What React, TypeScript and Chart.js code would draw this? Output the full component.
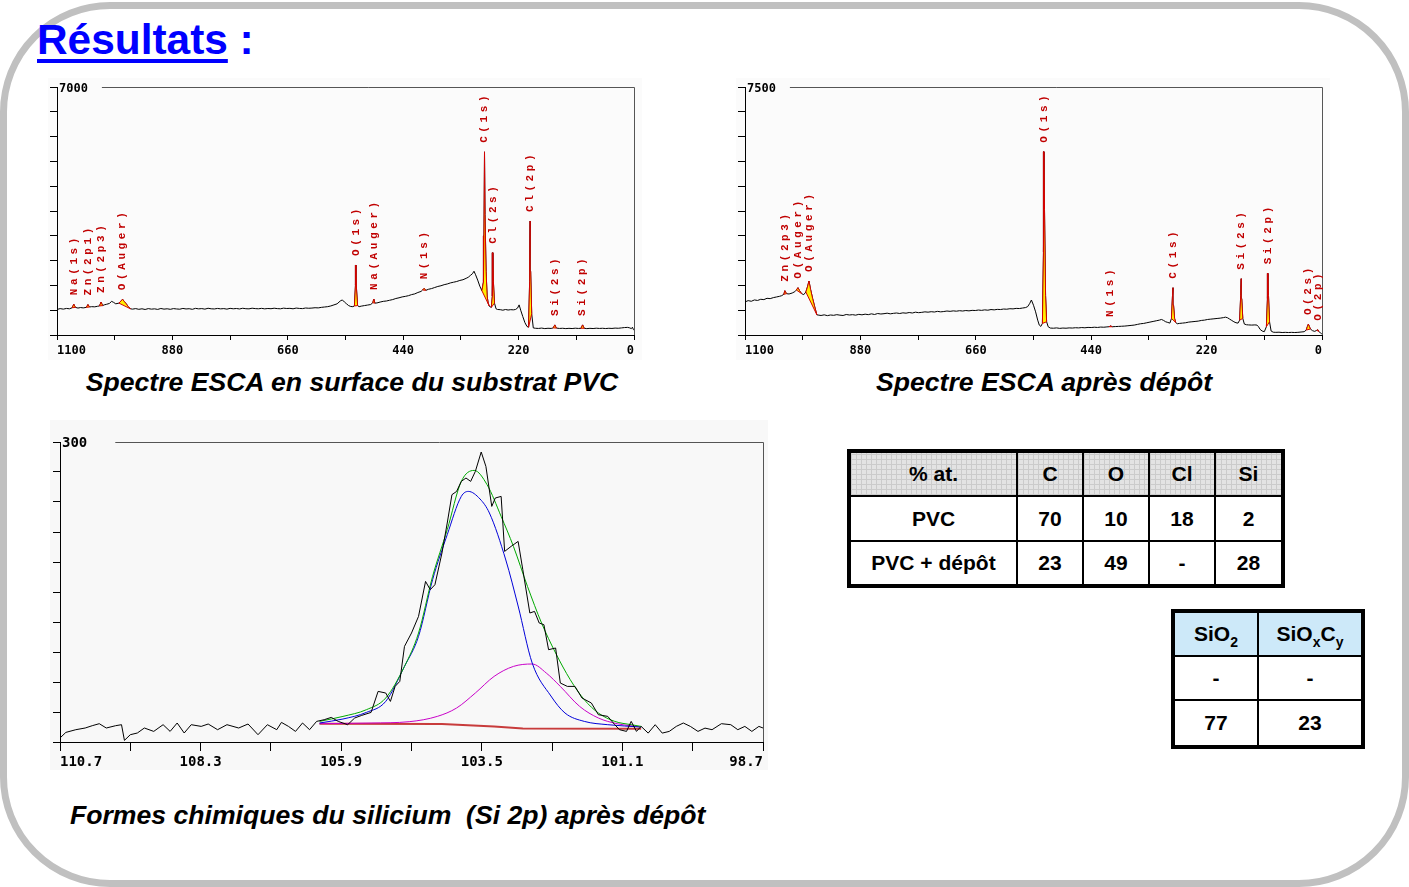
import React, { useEffect, useRef } from 'react';
import { Chart, registerables } from 'chart.js';

Chart.register(...registerables);

// ---------- Spectre ESCA surface PVC : [énergie de liaison (eV), coups] ----------
const pvcSpectrum: [number, number][] = [
  [1100, 720], [1094, 745], [1088, 730], [1082, 750], [1076, 740], [1071, 770], [1068, 870], [1065, 780],
  [1060, 760], [1055, 775], [1050, 765], [1044, 780], [1041, 860], [1038, 790], [1034, 800], [1028, 795],
  [1023, 810], [1019, 820], [1016, 930], [1013, 830], [1010, 850], [1006, 865], [1000, 890], [996, 950], [992, 920],
  [988, 880], [982, 900], [978, 960], [975, 1010], [972, 950], [968, 880], [964, 800], [960, 740],
  [956, 730], [950, 745], [944, 725], [938, 740], [932, 720], [926, 745], [920, 730], [914, 738],
  [908, 722], [902, 748], [896, 730], [890, 740], [884, 725], [878, 745], [872, 735], [866, 728],
  [860, 750], [854, 735], [848, 742], [842, 725], [836, 752], [830, 738], [824, 745], [818, 730],
  [812, 755], [806, 740], [800, 735], [794, 750], [788, 738], [782, 745], [776, 730], [770, 752],
  [764, 740], [758, 748], [752, 735], [746, 755], [740, 742], [734, 738], [728, 756], [722, 745],
  [716, 740], [710, 752], [704, 738], [698, 748], [692, 742], [686, 756], [680, 745], [674, 740],
  [668, 758], [662, 748], [656, 752], [650, 740], [644, 760], [638, 750], [632, 745], [626, 762],
  [620, 755], [614, 760], [608, 770], [602, 765], [596, 780], [590, 790], [584, 800], [578, 820],
  [572, 850], [566, 880], [560, 960], [556, 990], [552, 930], [548, 880], [544, 830], [540, 805],
  [536, 800], [533, 820], [531, 1400], [530, 1976], [529, 1300], [527, 830], [524, 800], [520, 815],
  [514, 830], [508, 845], [502, 860], [498, 910], [496, 1016], [494, 900], [490, 905], [484, 930],
  [478, 950], [472, 960], [466, 980], [460, 1000], [454, 1030], [448, 1050], [442, 1075], [436, 1090],
  [430, 1110], [424, 1140], [418, 1160], [412, 1200], [406, 1230], [403, 1270], [400, 1317], [397, 1260],
  [392, 1290], [386, 1310], [380, 1340], [374, 1370], [368, 1390], [362, 1420], [356, 1440], [350, 1470],
  [344, 1490], [338, 1510], [332, 1540], [326, 1560], [320, 1600], [316, 1630], [312, 1680], [308, 1730],
  [305, 1800], [302, 1700], [298, 1550], [294, 1380], [290, 1250], [287, 1500], [286, 2800], [285, 5170],
  [284, 3400], [282, 1800], [280, 1100], [278, 900], [276, 820], [274, 790], [272, 780], [270, 1100],
  [269, 2323], [268, 1500], [266, 900], [263, 740], [260, 720], [255, 715], [250, 700], [245, 720],
  [240, 705], [235, 715], [230, 710], [226, 720], [222, 760], [219, 850], [216, 700], [212, 520],
  [208, 350], [204, 240], [201, 220], [199, 1500], [198, 3218], [197, 1800], [195, 600], [192, 200],
  [188, 190], [182, 185], [176, 195], [170, 180], [164, 190], [158, 185], [154, 200], [151, 285],
  [148, 195], [142, 185], [136, 190], [130, 180], [124, 188], [118, 182], [112, 192], [106, 185],
  [101, 190], [98, 285], [95, 190], [90, 180], [84, 188], [78, 182], [72, 192], [66, 185],
  [60, 190], [54, 182], [48, 190], [42, 185], [36, 195], [30, 190], [24, 200], [18, 210],
  [12, 215], [8, 200], [5, 180], [3, 220], [1, 150], [0, 140],
];
const pvcPeakNames = ['Na(1s)', 'Zn(2p1)', 'Zn(2p3)', 'O(Auger)', 'O(1s)', 'Na(Auger)', 'N(1s)', 'C(1s)', 'Cl(2s)', 'Cl(2p)', 'Si(2s)', 'Si(2p)'];
const pvcPeakFrom = [1071, 1044, 1019, 982, 533, 498, 403, 290, 272, 201, 154, 101];
const pvcPeakTo = [1065, 1038, 1013, 960, 527, 494, 397, 276, 266, 195, 148, 95];

// ---------- Spectre ESCA après dépôt ----------
const depotSpectrum: [number, number][] = [
  [1100, 1000], [1094, 1040], [1088, 1020], [1082, 1060], [1076, 1045], [1070, 1080], [1064, 1070], [1058, 1110],
  [1052, 1100], [1046, 1130], [1040, 1150], [1034, 1170], [1030, 1190], [1026, 1230], [1024, 1340], [1021, 1250],
  [1016, 1240], [1010, 1270], [1005, 1310], [1002, 1360], [999, 1431], [996, 1340], [992, 1250], [988, 1220],
  [984, 1300], [981, 1450], [978, 1633], [975, 1380], [971, 1100], [967, 850], [963, 610], [959, 600],
  [955, 590], [949, 610], [943, 585], [937, 605], [931, 595], [925, 615], [919, 600], [913, 590],
  [907, 620], [901, 605], [895, 615], [889, 600], [883, 625], [877, 610], [871, 630], [865, 615],
  [859, 640], [853, 620], [847, 650], [841, 635], [835, 645], [829, 660], [823, 640], [817, 655],
  [811, 665], [805, 650], [799, 670], [793, 660], [787, 680], [781, 665], [775, 690], [769, 675],
  [763, 685], [757, 700], [751, 690], [745, 705], [739, 695], [733, 715], [727, 700], [721, 710],
  [715, 725], [709, 715], [703, 730], [697, 720], [691, 735], [685, 725], [679, 740], [673, 730],
  [667, 745], [661, 740], [655, 755], [649, 745], [643, 760], [637, 750], [631, 770], [625, 760],
  [619, 775], [613, 770], [607, 785], [601, 780], [595, 795], [589, 790], [583, 805], [577, 800],
  [571, 815], [565, 830], [561, 860], [557, 960], [554, 1058], [550, 900], [546, 700], [542, 450],
  [539, 300], [536, 260], [533, 350], [531, 2500], [530, 5544], [529, 3800], [527, 1200], [525, 400],
  [522, 250], [518, 210], [512, 205], [506, 215], [500, 200], [494, 210], [488, 205], [482, 215],
  [476, 210], [470, 220], [464, 215], [458, 225], [452, 218], [446, 230], [440, 225], [434, 235],
  [428, 228], [422, 240], [416, 235], [410, 245], [406, 250], [403, 275], [400, 250], [394, 255],
  [388, 260], [382, 265], [376, 270], [370, 280], [364, 290], [358, 300], [352, 320], [346, 340],
  [340, 350], [334, 370], [328, 390], [322, 410], [316, 430], [310, 450], [306, 470], [302, 440],
  [298, 400], [294, 380], [290, 360], [287, 500], [285, 1200], [284, 1431], [283, 900], [281, 500],
  [279, 380], [276, 340], [272, 350], [266, 360], [260, 370], [254, 390], [248, 400], [242, 410],
  [236, 420], [230, 440], [224, 450], [218, 470], [212, 480], [206, 490], [200, 500], [194, 510],
  [188, 525], [184, 540], [180, 520], [176, 480], [172, 440], [168, 400], [164, 370], [160, 360],
  [157, 450], [155, 1200], [154, 1704], [153, 1100], [151, 500], [148, 330], [144, 310], [140, 305],
  [134, 300], [128, 305], [124, 300], [121, 250], [118, 170], [114, 120], [110, 100], [106, 250],
  [104, 1100], [103, 1865], [102, 1200], [100, 400], [97, 120], [93, 85], [88, 80], [82, 85],
  [76, 75], [70, 80], [64, 75], [58, 80], [52, 75], [46, 80], [40, 90], [34, 100],
  [30, 150], [28, 250], [26, 330], [24, 250], [22, 180], [18, 130], [14, 110], [10, 140],
  [8, 160], [6, 110], [3, 60], [1, 40], [0, 30],
];
const depotPeakNames = ['Zn(2p3)', 'O(Auger)', 'O(Auger)', 'O(1s)', 'N(1s)', 'C(1s)', 'Si(2s)', 'Si(2p)', 'O(2s)', 'O(2p)'];
const depotPeakFrom = [1026, 1002, 984, 533, 406, 287, 157, 106, 30, 10];
const depotPeakTo = [1021, 992, 963, 525, 400, 279, 151, 100, 22, 6];

const surveyTicks = [0, 110, 220, 330, 440, 550, 660, 770, 880, 990, 1100];
const surveyTickLabels = ['1100', '880', '660', '440', '220', '0'];
const pvcYTicks = [0, 700, 1400, 2100, 2800, 3500, 4200, 4900, 5600, 6300, 7000];
const depotYTicks = [0, 750, 1500, 2250, 3000, 3750, 4500, 5250, 6000, 6750, 7500];

// ---------- Si 2p après dépôt ----------
const si2pRaw: [number, number][] = [
  [110.7, 4], [110.6, 9.6], [110.43, 12.3], [110.27, 14], [110.15, 16.3], [110.03, 18.3], [109.91, 14], [109.75, 16.3],
  [109.65, 17.3], [109.6, 1.6], [109.5, 7.3], [109.38, 9], [109.26, 14], [109.1, 10.6], [108.94, 17.3], [108.82, 10.6],
  [108.7, 19], [108.58, 9], [108.46, 17.3], [108.29, 15.6], [108.17, 18], [108.01, 12.3], [107.85, 17.3], [107.65, 14],
  [107.49, 18], [107.32, 7.3], [107.16, 17.3], [107.0, 12.3], [106.92, 19.6], [106.8, 15.6], [106.68, 10.6], [106.56, 19],
  [106.44, 12.3], [106.32, 20.6], [106.19, 22.3], [106.07, 24.6], [105.95, 20.6], [105.79, 17.3], [105.67, 24], [105.55, 26.6],
  [105.39, 29.6], [105.27, 50.6], [105.14, 49], [105.06, 40.6], [104.98, 55.6], [104.9, 60.6], [104.82, 95.6], [104.7, 109],
  [104.58, 125.6], [104.46, 160.6], [104.38, 152.3], [104.3, 157.3], [104.18, 189], [104.09, 219], [104.01, 247.3], [103.93, 250.6],
  [103.85, 260.6], [103.77, 264], [103.69, 260.6], [103.61, 270.6], [103.51, 290], [103.43, 275.6], [103.33, 235.6], [103.27, 244],
  [103.17, 245.6], [103.11, 190.6], [103.0, 195.6], [102.88, 200.6], [102.8, 172.3], [102.68, 129], [102.6, 130.6], [102.52, 119],
  [102.44, 117.3], [102.36, 92.3], [102.24, 94], [102.16, 59], [102.04, 55.6], [101.91, 55.6], [101.79, 44], [101.63, 39],
  [101.51, 27.3], [101.35, 25.6], [101.23, 17.3], [101.15, 12.3], [101.03, 10.6], [100.95, 20.6], [100.86, 10.6], [100.78, 15.6],
  [100.66, 8.9], [100.54, 17.3], [100.42, 8.9], [100.3, 10.6], [100.18, 15.6], [100.06, 19], [99.94, 15.6], [99.81, 10.6],
  [99.69, 13.9], [99.57, 12.3], [99.41, 18.3], [99.25, 17.3], [99.13, 12.3], [99.01, 15.6], [98.89, 10.6], [98.77, 15.6],
  [98.7, 14],
];
const si2pEnvelope: [number, number][] = [
  [106.27, 20.6], [105.87, 25.6], [105.47, 32.3], [105.14, 44], [104.82, 75.6], [104.58, 109], [104.34, 165.6], [104.09, 212.3],
  [103.85, 260.6], [103.63, 271.6], [103.41, 257.3], [103.17, 225.6], [102.96, 195.6], [102.72, 155.6], [102.48, 119], [102.24, 89],
  [101.99, 62.3], [101.75, 42.3], [101.51, 29], [101.23, 20.6], [100.95, 17.3], [100.78, 15.6],
];
const si2pSiO2: [number, number][] = [
  [106.27, 19], [105.87, 23], [105.47, 29.6], [105.14, 40.6], [104.82, 75.6], [104.58, 105.6], [104.34, 162.3], [104.09, 207.3],
  [103.85, 245.6], [103.73, 250.6], [103.53, 243], [103.37, 229], [103.09, 182], [102.88, 136], [102.64, 79], [102.32, 46],
  [102.08, 29], [101.75, 20.6], [101.35, 17.3], [100.78, 15],
];
const si2pSiOxCy: [number, number][] = [
  [106.27, 18.3], [105.39, 19], [104.74, 20.3], [104.26, 25.6], [103.93, 34], [103.61, 49], [103.29, 65.6], [102.96, 75.6],
  [102.64, 78], [102.4, 69], [102.16, 55.6], [101.83, 35.6], [101.51, 24], [101.19, 18.3], [100.78, 15],
];
const si2pBackground: [number, number][] = [
  [106.27, 18.3], [104.18, 18], [103.29, 15.6], [102.8, 13.6], [100.78, 13.3],
];
const si2pTicks = [98.7, 99.9, 101.1, 102.3, 103.5, 104.7, 105.9, 107.1, 108.3, 109.5, 110.7];
const si2pTickLabels = ['110.7', '108.3', '105.9', '103.5', '101.1', '98.7'];
const si2pYTicks = [0, 30, 60, 90, 120, 150, 180, 210, 240, 270, 300];

// ---------- Tableaux ----------
const compHeader = ['% at.', 'C', 'O', 'Cl', 'Si'];
const compPVC = ['PVC', '70', '10', '18', '2'];
const compDepot = ['PVC + dépôt', '23', '49', '-', '28'];
const siHeader = ['SiO_2', 'SiO_xC_y'];
const siRowPVC = ['-', '-'];
const siRowDepot = ['77', '23'];

// ---------------------------------------------------------------------------
const PEAK_RED = '#d40000';
const PEAK_YELLOW = '#ffee00';
const MONO = '"DejaVu Sans Mono", "Liberation Mono", monospace';

type Pt = { x: number; y: number };
const toPoints = (pairs: [number, number][]): Pt[] =>
  pairs.map(([x, y]) => ({ x, y })).sort((a, b) => a.x - b.x);

function makeFramePlugin(o: {
  topLabel: string; topFont: string; gap: number;
  peaks?: { x: number; y: number; text: string }[]; peakFont?: string; peakGap?: number; pitch?: number;
}) {
  return {
    id: 'frame',
    afterDatasetsDraw(chart: any) {
      const { ctx, chartArea: a, scales } = chart;
      const xs = scales.x, ys = scales.y;
      ctx.save();
      ctx.font = o.topFont;
      const yTop = Math.round(ys.getPixelForValue(ys.max)) + 0.5;
      const w = ctx.measureText(o.topLabel).width;
      ctx.strokeStyle = '#555';
      ctx.lineWidth = 1;
      ctx.beginPath();
      ctx.moveTo(a.left + 2 + w + o.gap, yTop);
      ctx.lineTo(Math.round(a.right) + 0.5, yTop);
      ctx.lineTo(Math.round(a.right) + 0.5, a.bottom);
      ctx.stroke();
      ctx.fillStyle = '#000';
      ctx.textAlign = 'left';
      ctx.textBaseline = 'middle';
      ctx.fillText(o.topLabel, a.left + 2, yTop + 1);
      if (o.peaks) {
        ctx.font = o.peakFont;
        ctx.fillStyle = '#c00000';
        for (const p of o.peaks) {
          const px = xs.getPixelForValue(p.x);
          const py = ys.getPixelForValue(p.y) - (o.peakGap || 8);
          ctx.save();
          ctx.translate(px, py);
          ctx.rotate(-Math.PI / 2);
          ctx.textAlign = 'left';
          ctx.textBaseline = 'middle';
          Array.from(p.text).forEach((ch, i) => ctx.fillText(ch, i * (o.pitch || 10), 0));
          ctx.restore();
        }
      }
      ctx.restore();
    },
  };
}

function axisScales(p: {
  xMin: number; xMax: number; xTicks: number[]; xLabels: string[]; fmt: (v: number) => string;
  yMax: number; yTicks: number[]; xHeight: number; xTickLen: number; xPad: number; fontSize: number;
}) {
  return {
    x: {
      type: 'linear', min: p.xMin, max: p.xMax, reverse: true,
      afterBuildTicks: (s: any) => { s.ticks = p.xTicks.map((v) => ({ value: v })); },
      afterFit: (s: any) => { s.height = p.xHeight; },
      grid: { drawOnChartArea: false, drawTicks: true, tickLength: p.xTickLen, color: '#000', lineWidth: 1 },
      border: { display: true, color: '#000', width: 1 },
      ticks: {
        align: 'inner', padding: p.xPad, maxRotation: 0, minRotation: 0, autoSkip: false, color: '#000',
        font: { family: MONO, size: p.fontSize, weight: 'bold' },
        callback: (v: any) => { const s = p.fmt(Number(v)); return p.xLabels.includes(s) ? s : ''; },
      },
    },
    y: {
      type: 'linear', min: 0, max: p.yMax,
      afterBuildTicks: (s: any) => { s.ticks = p.yTicks.map((v) => ({ value: v })); },
      afterFit: (s: any) => { s.width = 8; },
      grid: { drawOnChartArea: false, drawTicks: true, tickLength: 7, color: '#000', lineWidth: 1 },
      border: { display: true, color: '#000', width: 1 },
      ticks: { display: false },
    },
  };
}

function surveyConfig(spec: [number, number][], names: string[], from: number[], to: number[], yMax: number, yTicks: number[]) {
  const pts = toPoints(spec);
  const datasets: any[] = [];
  const peaks: { x: number; y: number; text: string }[] = [];
  names.forEach((name, k) => {
    const seg = pts.filter((p) => p.x <= from[k] && p.x >= to[k]);
    const top = seg.reduce((m, p) => (p.y > m.y ? p : m), seg[0]);
    peaks.push({ x: top.x, y: top.y, text: name });
    datasets.push({ data: [seg[0], seg[seg.length - 1]], borderColor: PEAK_RED, borderWidth: 1, pointRadius: 0, fill: false, order: 1 });
    datasets.push({ data: seg, borderColor: PEAK_RED, borderWidth: 1, pointRadius: 0, backgroundColor: PEAK_YELLOW, fill: '-1', order: 1 });
  });
  datasets.push({ data: pts, borderColor: '#000', borderWidth: 1, pointRadius: 0, fill: false, order: 2 });
  return {
    type: 'line',
    data: { datasets },
    options: {
      animation: false, responsive: false, events: [],
      layout: { padding: { left: 1, top: 9, right: 8, bottom: 3 } },
      plugins: { legend: { display: false }, tooltip: { enabled: false } },
      elements: { line: { tension: 0 }, point: { radius: 0 } },
      scales: axisScales({
        xMin: 0, xMax: 1100, xTicks: surveyTicks, xLabels: surveyTickLabels, fmt: (v) => String(Math.round(v)),
        yMax, yTicks, xHeight: 22, xTickLen: 5, xPad: 4, fontSize: 12,
      }),
    },
    plugins: [makeFramePlugin({
      topLabel: String(yMax), topFont: `bold 12px ${MONO}`, gap: 14,
      peaks, peakFont: 'bold 11px "Liberation Mono", monospace', peakGap: 9, pitch: 10.2,
    })],
  };
}

function si2pConfig() {
  const line = (pairs: [number, number][], color: string, width: number, order: number, tension: number) => ({
    data: toPoints(pairs), borderColor: color, borderWidth: width, pointRadius: 0, fill: false, order,
    tension, cubicInterpolationMode: tension ? 'monotone' : 'default',
  });
  return {
    type: 'line',
    data: {
      datasets: [
        line(si2pRaw, '#000', 1, 0, 0),
        line(si2pEnvelope, '#00a800', 1, 1, 0.4),
        line(si2pSiO2, '#0000d8', 1, 1, 0.4),
        line(si2pSiOxCy, '#c800c8', 1, 1, 0.4),
        line(si2pBackground, '#c83c3c', 2, 2, 0),
      ],
    },
    options: {
      animation: false, responsive: false, events: [],
      layout: { padding: { left: 2, top: 22, right: 5, bottom: 2 } },
      plugins: { legend: { display: false }, tooltip: { enabled: false } },
      elements: { point: { radius: 0 } },
      scales: axisScales({
        xMin: 98.7, xMax: 110.7, xTicks: si2pTicks, xLabels: si2pTickLabels, fmt: (v) => v.toFixed(1),
        yMax: 300, yTicks: si2pYTicks, xHeight: 26, xTickLen: 9, xPad: 3, fontSize: 14,
      }),
    },
    plugins: [makeFramePlugin({ topLabel: '300', topFont: `bold 14px ${MONO}`, gap: 28 })],
  };
}

function ChartBox(props: { make: () => any; left: number; top: number; width: number; height: number; bg: string }) {
  const ref = useRef<HTMLCanvasElement>(null);
  useEffect(() => {
    const chart = new Chart(ref.current as HTMLCanvasElement, props.make());
    return () => chart.destroy();
  }, []);
  return (
    <div style={{ position: 'absolute', left: props.left, top: props.top, width: props.width, height: props.height, background: props.bg }}>
      <canvas ref={ref} width={props.width} height={props.height} style={{ display: 'block', width: props.width, height: props.height }} />
    </div>
  );
}

function renderSub(text: string) {
  const parts: React.ReactNode[] = [];
  let i = 0;
  let buf = '';
  while (i < text.length) {
    if (text[i] === '_' && i + 1 < text.length) {
      if (buf) parts.push(buf);
      buf = '';
      parts.push(
        <span key={i} style={{ fontSize: 14, position: 'relative', top: 6, lineHeight: '14px' }}>{text[i + 1]}</span>,
      );
      i += 2;
    } else {
      buf += text[i];
      i += 1;
    }
  }
  if (buf) parts.push(buf);
  return parts;
}

function Table(props: { left: number; top: number; colW: number[]; rowH: number[]; rows: string[][]; headerBg: string; fontSize: number }) {
  const { left, top, colW, rowH, rows, headerBg, fontSize } = props;
  return (
    <div style={{
      position: 'absolute', left, top, display: 'grid', gridTemplateColumns: colW.map((w) => `${w}px`).join(' '),
      gridTemplateRows: rowH.map((h) => `${h}px`).join(' '), gap: 2, background: '#000', border: '4px solid #000',
    }}>
      {rows.map((r, ri) => r.map((c, ci) => (
        <div key={`${ri}-${ci}`} style={{
          background: ri === 0 ? headerBg : '#fff', display: 'flex', alignItems: 'center', justifyContent: 'center',
          fontWeight: 'bold', fontSize, color: '#000', whiteSpace: 'pre',
        }}><span>{renderSub(c)}</span></div>
      )))}
    </div>
  );
}

const gridHeaderBg =
  'repeating-linear-gradient(0deg, #cbcbcb 0px, #cbcbcb 1px, transparent 1px, transparent 5px), ' +
  'repeating-linear-gradient(90deg, #cbcbcb 0px, #cbcbcb 1px, transparent 1px, transparent 5px), #e3e3e3';

export default function App() {
  const caption: React.CSSProperties = {
    position: 'absolute', fontWeight: 'bold', fontStyle: 'italic', fontSize: 26.6, lineHeight: '26px', color: '#000', whiteSpace: 'pre',
  };
  return (
    <div style={{
      position: 'absolute', left: 0, top: 0, width: 1409, height: 887, overflow: 'hidden', background: '#fff',
      fontFamily: '"Liberation Sans", Arial, sans-serif',
    }}>
      <div style={{
        position: 'absolute', left: 0, top: 2, width: 1409, height: 885, boxSizing: 'border-box',
        border: '7px solid #c0c0c0', borderRadius: 110,
      }} />
      <div style={{ position: 'absolute', left: 37, top: 19, fontSize: 42.4, lineHeight: '42px', fontWeight: 'bold', color: '#0000ff', whiteSpace: 'pre' }}>
        <span style={{ textDecoration: 'underline', textDecorationThickness: 4, textUnderlineOffset: 5 }}>Résultats</span>
        <span> :</span>
      </div>

      <ChartBox make={() => surveyConfig(pvcSpectrum, pvcPeakNames, pvcPeakFrom, pvcPeakTo, 7000, pvcYTicks)} left={48} top={78} width={594} height={282} bg="#fbfbfb" />
      <ChartBox make={() => surveyConfig(depotSpectrum, depotPeakNames, depotPeakFrom, depotPeakTo, 7500, depotYTicks)} left={736} top={78} width={594} height={282} bg="#fbfbfb" />
      <ChartBox make={si2pConfig} left={50} top={420} width={718} height={350} bg="#f8f8f8" />

      <div style={{ ...caption, left: 52, top: 369, width: 600, textAlign: 'center' }}>Spectre ESCA en surface du substrat PVC</div>
      <div style={{ ...caption, left: 744, top: 369, width: 600, textAlign: 'center' }}>Spectre ESCA après dépôt</div>
      <div style={{ ...caption, left: 70, top: 802 }}>Formes chimiques du silicium  (Si 2p) après dépôt</div>

      <Table left={847} top={449} colW={[165, 64, 64, 64, 65]} rowH={[42, 43, 42]} rows={[compHeader, compPVC, compDepot]} headerBg={gridHeaderBg} fontSize={21} />
      <Table left={1171} top={609} colW={[82, 102]} rowH={[42, 42, 44]} rows={[siHeader, siRowPVC, siRowDepot]} headerBg="#cde9f9" fontSize={21} />
    </div>
  );
}
